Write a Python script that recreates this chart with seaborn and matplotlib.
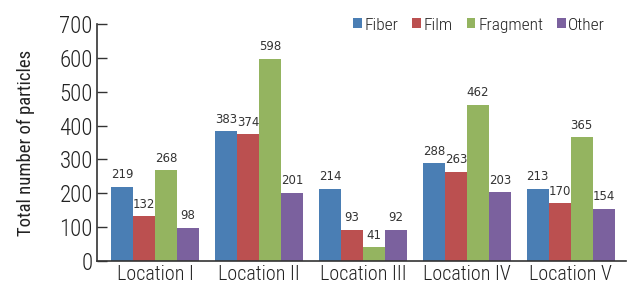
import pandas as pd
import matplotlib.pyplot as plt
import seaborn as sns

locations = ["Location I", "Location II", "Location III", "Location IV", "Location V"]
types = ["Fiber", "Film", "Fragment", "Other"]
fiber = [219, 383, 214, 288, 213]
film = [132, 374, 93, 263, 170]
fragment = [268, 598, 41, 462, 365]
other = [98, 201, 92, 203, 154]
colors = ["#4a7eb4", "#bb5050", "#94b460", "#7b619e"]

sns.set_theme(style="white")
plt.rcParams["font.family"] = ["Roboto Condensed", "DejaVu Sans"]
plt.rcParams["font.weight"] = "light"

rows = []
for t, vals in zip(types, [fiber, film, fragment, other]):
    for loc, v in zip(locations, vals):
        rows.append({"Location": loc, "Type": t, "Count": v})
df = pd.DataFrame(rows)

fig = plt.figure(figsize=(6.27, 2.85), dpi=100)
ax = fig.add_axes([0.1547, 0.0842, 0.8433, 0.8316])
sns.barplot(data=df, x="Location", y="Count", hue="Type", hue_order=types,
            order=locations, palette=colors, width=0.846, saturation=1,
            linewidth=0, ax=ax)

for c in ax.containers:
    ax.bar_label(c, padding=4, fontsize=8.5, color="#333333",
                 family="DejaVu Sans", fontweight="normal")

ax.set_ylim(0, 700)
ax.set_xlim(-0.56, 4.53)
ax.set_yticks(range(0, 701, 100))
ax.tick_params(axis="y", direction="in", length=7, width=1, color="#333333",
               labelsize=16.5, labelcolor="#222222", pad=3, left=True)
ax.tick_params(axis="x", length=0, labelsize=14.5, labelcolor="#222222", pad=3)
for s in ["top", "right"]:
    ax.spines[s].set_visible(False)
for s in ["left", "bottom"]:
    ax.spines[s].set_color("#333333")
    ax.spines[s].set_linewidth(1.2)
ax.set_xlabel("")
ax.set_ylabel("Total number of particles", fontsize=13.5, color="#222222")
ax.yaxis.set_label_coords(-0.117, 0.5)

ax.legend_.remove()
handles, labels = ax.get_legend_handles_labels()
fig.legend(handles, labels, loc="center right", bbox_to_anchor=(0.99, 0.912),
           ncol=4, frameon=False, fontsize=12.5, handlelength=0.5, handleheight=0.5,
           handletextpad=0.15, columnspacing=0.8, labelcolor="#222222")

fig.savefig("out.png", dpi=100)
